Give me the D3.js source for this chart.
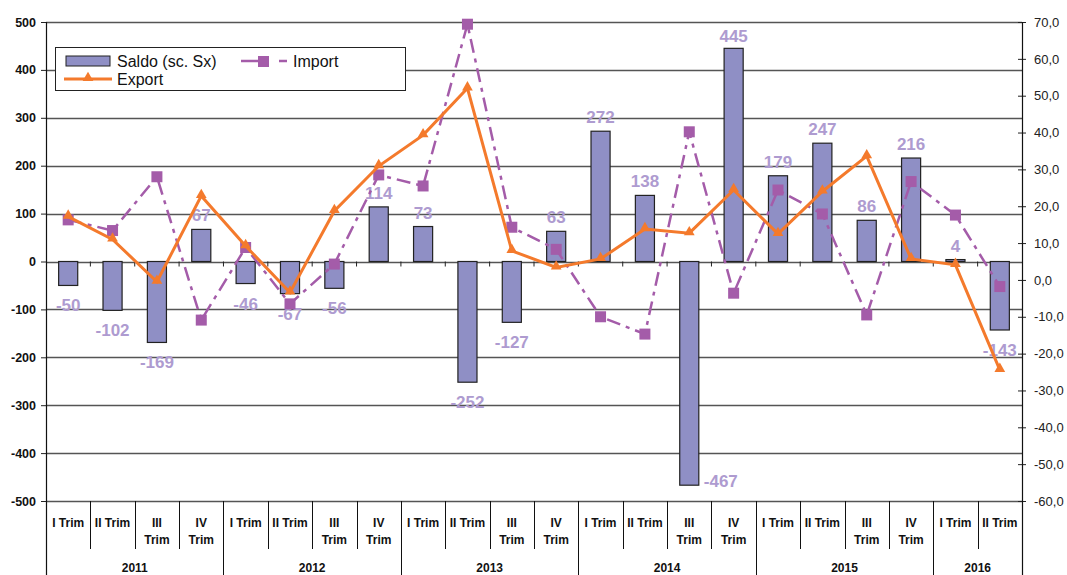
<!DOCTYPE html>
<html>
    <head>
        <meta charset="utf-8">
        <script src="https://d3js.org/d3.v7.min.js"></script>
        <style>
          body { margin: 0; background: #ffffff; }
          #chart { width: 1067px; height: 575px; position: relative; }
          text { font-family: "Liberation Sans", Arial, Helvetica, sans-serif; }
      </style>
    </head>
    <body>
        <div id="chart"></div>
        <script>

            /* DATA */
            var years = ["2011", "2012", "2013", "2014", "2015", "2016"];
            var quartersPerYear = [4, 4, 4, 4, 4, 2];
            var quarterLabels = [["I Trim"], ["II Trim"], ["III", "Trim"], ["IV", "Trim"]];

            var saldo = [-50, -102, -169, 67, -46, -67, -56, 114, 73, -252, -127, 63,
                         272, 138, -467, 445, 179, 247, 86, 216, 4, -143];
            var importVals = [16.3, 13.4, 28.0, -10.9, 8.8, -6.5, 4.3, 28.5, 25.5, 69.4, 14.3, 8.3,
                              -10.0, -14.7, 40.2, -3.6, 24.4, 17.9, -9.5, 26.7, 17.6, -1.8];
            var exportVals = [17.2, 11.0, -0.5, 22.8, 9.2, -3.4, 18.7, 30.9, 39.3, 52.0, 7.9, 3.4,
                              5.7, 13.8, 12.7, 24.4, 12.5, 24.0, 33.6, 5.7, 4.1, -24.4];

            var leftTicks = [-500, -400, -300, -200, -100, 0, 100, 200, 300, 400, 500];
            var rightTicks = [-60, -50, -40, -30, -20, -10, 0, 10, 20, 30, 40, 50, 60, 70];

            /* build category list */
            var categories = [];
            years.forEach(function(y, i) {
                for (var q = 0; q < quartersPerYear[i]; q++) {
                    categories.push({year: y, q: q, idx: categories.length});
                }
            });

            /* DIMENSIONS */
            var width = 1067, height = 575;
            var plotLeft = 46, plotRight = 1022, plotTop = 22, plotBottom = 501;

            var svg = d3.select("#chart")
                .append("svg")
                .attr("width", width)
                .attr("height", height);

            var x = d3.scaleBand()
                .domain(d3.range(categories.length))
                .range([plotLeft, plotRight])
                .padding(0);
            var yL = d3.scaleLinear().domain([-500, 500]).range([plotBottom, plotTop]);
            var yR = d3.scaleLinear().domain([-60, 70]).range([plotBottom, plotTop]);
            var cx = function(i) { return x(i) + x.bandwidth() / 2; };
            var barW = x.bandwidth() * 0.43;

            var labelColor = "#ae9bd0";
            var importColor = "#a45ca9";
            var exportColor = "#f47a2c";

            /* GRIDLINES */
            svg.append("g")
                .selectAll("line")
                .data(leftTicks)
                .enter()
                .append("line")
                    .attr("x1", plotLeft)
                    .attr("x2", plotRight)
                    .attr("y1", function(d) { return Math.round(yL(d)) + 0.5; })
                    .attr("y2", function(d) { return Math.round(yL(d)) + 0.5; })
                    .attr("stroke", "#555555")
                    .attr("stroke-width", 1.3);

            /* LEFT AXIS */
            var leftAxis = svg.append("g")
                .attr("transform", "translate(" + plotLeft + ",0)")
                .call(d3.axisLeft(yL).tickValues(leftTicks).tickSize(5).tickPadding(5)
                    .tickFormat(function(d) { return String(d); }));
            leftAxis.select(".domain").remove();
            leftAxis.selectAll("line").attr("stroke", "#222");
            leftAxis.selectAll("text")
                .attr("font-size", "12.5px")
                .attr("font-weight", "bold")
                .attr("fill", "#111")
                .attr("font-family", "'Liberation Sans', Arial, sans-serif");

            /* RIGHT AXIS */
            var rightAxis = svg.append("g")
                .attr("transform", "translate(" + plotRight + ",0)")
                .call(d3.axisRight(yR).tickValues(rightTicks).tickSize(4).tickPadding(8)
                    .tickFormat(function(d) { return d.toFixed(1).replace(".", ","); }));
            rightAxis.select(".domain").remove();
            rightAxis.selectAll("line").attr("x1", -4).attr("stroke", "#222");
            rightAxis.selectAll("text")
                .attr("font-size", "13px")
                .attr("fill", "#222")
                .attr("font-family", "'Liberation Sans', Arial, sans-serif");

            /* AXIS LINES */
            svg.append("line")
                .attr("x1", plotLeft + 0.5).attr("x2", plotLeft + 0.5)
                .attr("y1", plotTop).attr("y2", height)
                .attr("stroke", "#111").attr("stroke-width", 1.2);
            svg.append("line")
                .attr("x1", plotRight + 0.5).attr("x2", plotRight + 0.5)
                .attr("y1", plotTop).attr("y2", height)
                .attr("stroke", "#111").attr("stroke-width", 1.2);

            /* ticks on the zero line */
            svg.append("g")
                .selectAll("line")
                .data(d3.range(1, categories.length))
                .enter()
                .append("line")
                    .attr("x1", function(d) { return x(d); })
                    .attr("x2", function(d) { return x(d); })
                    .attr("y1", yL(0))
                    .attr("y2", yL(0) + 5)
                    .attr("stroke", "#222");

            /* CATEGORY SEPARATORS */
            svg.append("g")
                .selectAll("line")
                .data(categories.slice(1))
                .enter()
                .append("line")
                    .attr("x1", function(d) { return Math.round(x(d.idx)) + 0.5; })
                    .attr("x2", function(d) { return Math.round(x(d.idx)) + 0.5; })
                    .attr("y1", plotBottom)
                    .attr("y2", function(d) { return d.q === 0 ? height : 549; })
                    .attr("stroke", "#111")
                    .attr("stroke-width", 1);

            /* CATEGORY LABELS */
            var catText = svg.append("g")
                .selectAll("text")
                .data(categories)
                .enter()
                .append("text")
                    .attr("text-anchor", "middle")
                    .attr("font-size", "12px")
                    .attr("font-weight", "bold")
                    .attr("fill", "#111");
            catText.each(function(d) {
                var t = d3.select(this);
                quarterLabels[d.q].forEach(function(s, k) {
                    t.append("tspan")
                        .attr("x", cx(d.idx))
                        .attr("y", 527 + k * 17)
                        .text(s);
                });
            });

            /* YEAR LABELS */
            var yearStart = 0;
            years.forEach(function(y, i) {
                var x0 = x(yearStart);
                var x1 = x(yearStart + quartersPerYear[i] - 1) + x.bandwidth();
                svg.append("text")
                    .attr("x", (x0 + x1) / 2)
                    .attr("y", 572)
                    .attr("text-anchor", "middle")
                    .attr("font-size", "12px")
                    .attr("font-weight", "bold")
                    .attr("fill", "#111")
                    .text(y);
                yearStart += quartersPerYear[i];
            });

            /* BARS */
            svg.append("g")
                .selectAll("rect")
                .data(saldo)
                .enter()
                .append("rect")
                    .attr("x", function(d, i) { return cx(i) - barW / 2; })
                    .attr("width", barW)
                    .attr("y", function(d) { return yL(Math.max(0, d)); })
                    .attr("height", function(d) { return Math.abs(yL(d) - yL(0)); })
                    .attr("fill", "#8f8fc5")
                    .attr("stroke", "#222")
                    .attr("stroke-width", 1.2);

            /* BAR LABELS */
            svg.append("g")
                .selectAll("text")
                .data(saldo)
                .enter()
                .append("text")
                    .attr("font-size", "17px")
                    .attr("font-weight", "bold")
                    .attr("fill", labelColor)
                    .attr("text-anchor", function(d) { return yL(d) + 30 > plotBottom ? "start" : "middle"; })
                    .attr("x", function(d, i) { return yL(d) + 30 > plotBottom ? cx(i) + barW / 2 + 5 : cx(i); })
                    .attr("y", function(d) {
                        if (d >= 0) return Math.max(yL(d) - 8, plotTop + 20);
                        if (yL(d) + 30 > plotBottom) return yL(d) + 2;
                        return yL(d) + 26;
                    })
                    .text(function(d) { return d; });

            /* IMPORT LINE */
            var importLine = d3.line()
                .x(function(d, i) { return cx(i); })
                .y(function(d) { return yR(d); });
            svg.append("path")
                .datum(importVals)
                .attr("d", importLine)
                .attr("fill", "none")
                .attr("stroke", importColor)
                .attr("stroke-width", 2.5)
                .attr("stroke-dasharray", "14,6,4,6");
            svg.append("g")
                .selectAll("rect")
                .data(importVals)
                .enter()
                .append("rect")
                    .attr("x", function(d, i) { return cx(i) - 5.5; })
                    .attr("y", function(d) { return yR(d) - 5.5; })
                    .attr("width", 11)
                    .attr("height", 11)
                    .attr("fill", importColor);

            /* EXPORT LINE */
            var exportLine = d3.line()
                .x(function(d, i) { return cx(i); })
                .y(function(d) { return yR(d); });
            svg.append("path")
                .datum(exportVals)
                .attr("d", exportLine)
                .attr("fill", "none")
                .attr("stroke", exportColor)
                .attr("stroke-width", 3);
            var tri = d3.symbol().type(d3.symbolTriangle).size(50);
            svg.append("g")
                .selectAll("path")
                .data(exportVals)
                .enter()
                .append("path")
                    .attr("d", tri)
                    .attr("transform", function(d, i) { return "translate(" + cx(i) + "," + (yR(d) - 1) + ")"; })
                    .attr("fill", exportColor);

            /* LEGEND */
            var legend = svg.append("g");
            legend.append("rect")
                .attr("x", 55.5).attr("y", 47.5)
                .attr("width", 350).attr("height", 43)
                .attr("fill", "#ffffff")
                .attr("stroke", "#222")
                .attr("stroke-width", 1);
            legend.append("rect")
                .attr("x", 66).attr("y", 56)
                .attr("width", 44).attr("height", 10)
                .attr("fill", "#8f8fc5")
                .attr("stroke", "#222");
            legend.append("text")
                .attr("x", 117).attr("y", 67)
                .attr("font-size", "16px")
                .attr("fill", "#111")
                .text("Saldo (sc. Sx)");
            legend.append("line")
                .attr("x1", 241).attr("x2", 258)
                .attr("y1", 61).attr("y2", 61)
                .attr("stroke", importColor).attr("stroke-width", 2.5);
            legend.append("rect")
                .attr("x", 258).attr("y", 56)
                .attr("width", 11).attr("height", 11)
                .attr("fill", importColor);
            legend.append("line")
                .attr("x1", 279).attr("x2", 287)
                .attr("y1", 61).attr("y2", 61)
                .attr("stroke", importColor).attr("stroke-width", 2.5);
            legend.append("text")
                .attr("x", 293).attr("y", 67)
                .attr("font-size", "16px")
                .attr("fill", "#111")
                .text("Import");
            legend.append("line")
                .attr("x1", 64).attr("x2", 112)
                .attr("y1", 79).attr("y2", 79)
                .attr("stroke", exportColor).attr("stroke-width", 3);
            legend.append("path")
                .attr("d", tri)
                .attr("transform", "translate(88,78)")
                .attr("fill", exportColor);
            legend.append("text")
                .attr("x", 117).attr("y", 85)
                .attr("font-size", "16px")
                .attr("fill", "#111")
                .text("Export");

        </script>
    </body>
</html>
